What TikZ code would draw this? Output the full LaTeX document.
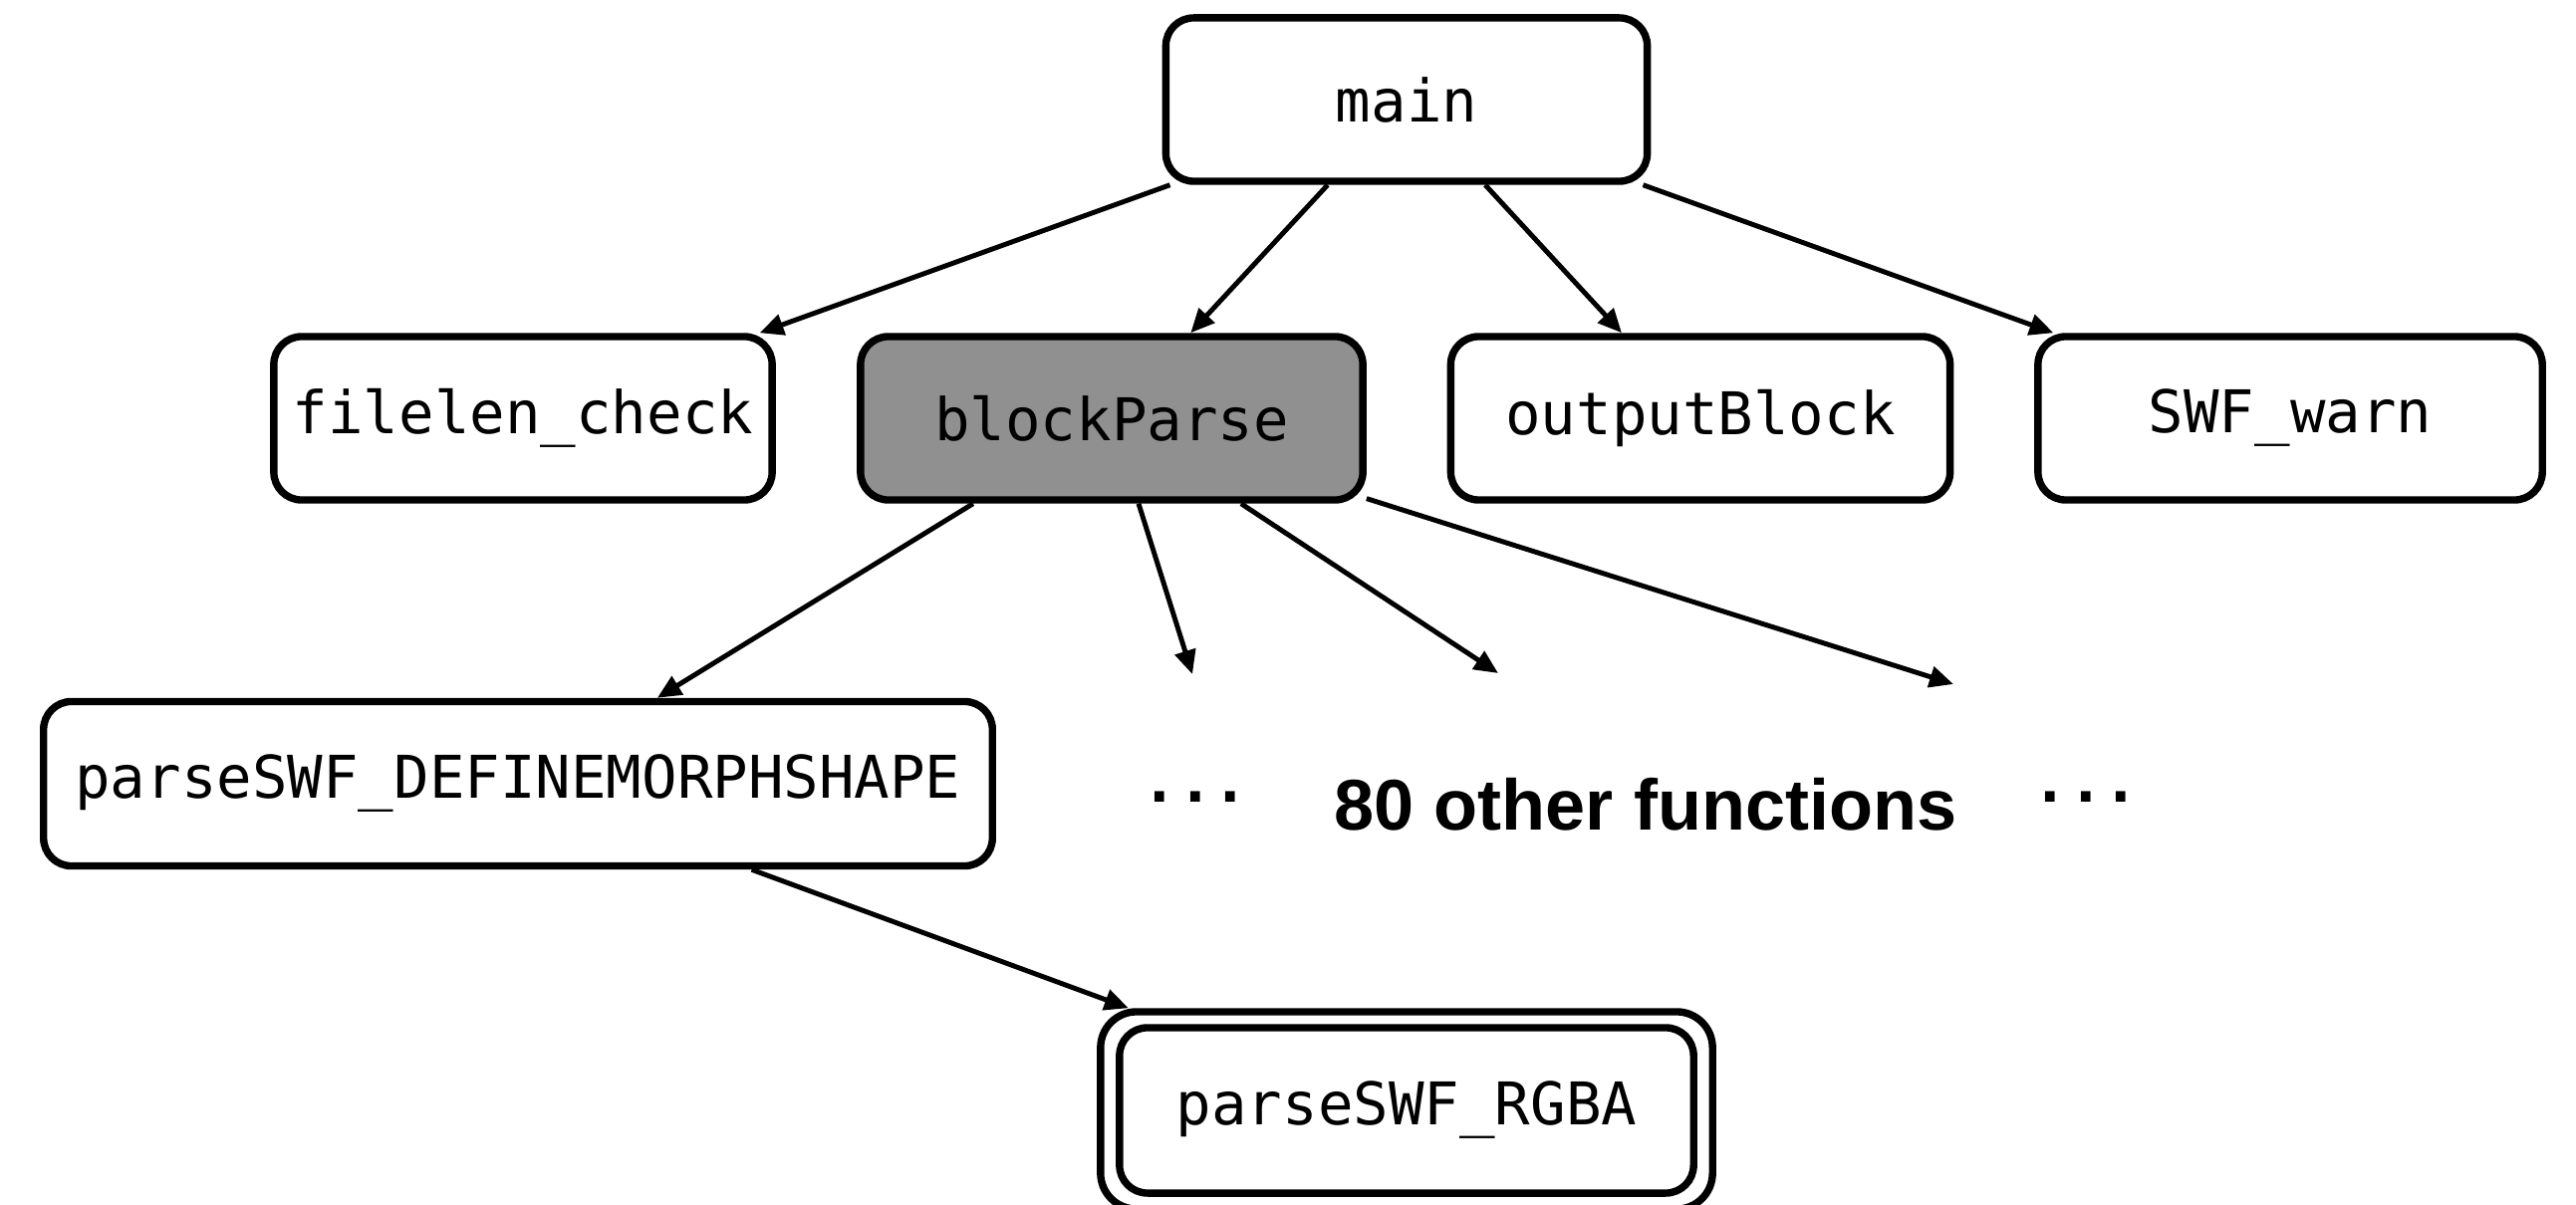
\documentclass[tikz,border=0pt]{standalone}
\usepackage{fontspec}
\newfontfamily\monof{DejaVu Sans Mono}
\newfontfamily\labf{Liberation Sans}
\usetikzlibrary{arrows.meta}
\definecolor{bpgray}{RGB}{144,144,144}
\begin{document}
\begin{tikzpicture}[x=0.01cm,y=-0.01cm,
  fn/.style={draw, line width=2.1pt, rounded corners=0.28cm, rectangle,
    minimum height=1.64cm, inner sep=0pt,
    font=\monof\fontsize{16.8}{20}\selectfont},
  dotsnode/.style={anchor=base, inner sep=0pt, font=\monof\bfseries\fontsize{16.8}{20}\selectfont},
  lab/.style={anchor=base, inner sep=0pt, font=\labf\bfseries\fontsize{20.5}{24}\selectfont},
  edge/.style={line width=1.4pt, -{Triangle[length=0.24cm,width=0.21cm]}}]
\useasboundingbox (0,0) rectangle (2586,1210);
\node[fn, minimum width=4.83cm] (main) at (1412,100) {main};
\node[fn, minimum width=5.0cm] (fl) at (525,420) {filelen\_check};
\node[fn, fill=bpgray, minimum width=5.04cm] (bp) at (1116,420) {blockParse};
\node[fn, minimum width=5.01cm] (ob) at (1707,420) {outputBlock};
\node[fn, minimum width=5.06cm] (sw) at (2299,420) {SWF\_warn};
\node[fn, minimum width=9.52cm, minimum height=1.65cm] (dm) at (520,787) {parseSWF\_DEFINEMORPHSHAPE};
\node[fn, rounded corners=0.36cm, minimum width=6.14cm, minimum height=1.98cm] (rgba) at (1412,1115) {};
\node[fn, minimum width=5.76cm, minimum height=1.66cm] (rgbain) at (1412,1115) {parseSWF\_RGBA};
\node[dotsnode] (d1) at (1200,805) {...};
\node[lab] (other) at (1652,833) {80 other functions};
\node[dotsnode] (d2) at (2094,805) {...};
\coordinate (e1) at (1197,677);
\coordinate (e2) at (1504,676);
\coordinate (e3) at (1961,687);
\draw[edge] (main) -- (fl);
\draw[edge] (main) -- (bp);
\draw[edge] (main) -- (ob);
\draw[edge] (main) -- (sw);
\draw[edge] (bp) -- (dm);
\draw[edge] (bp) -- (e1);
\draw[edge] (bp) -- (e2);
\draw[edge] (bp) -- (e3);
\draw[edge] (dm) -- (rgba);
\end{tikzpicture}
\end{document}
